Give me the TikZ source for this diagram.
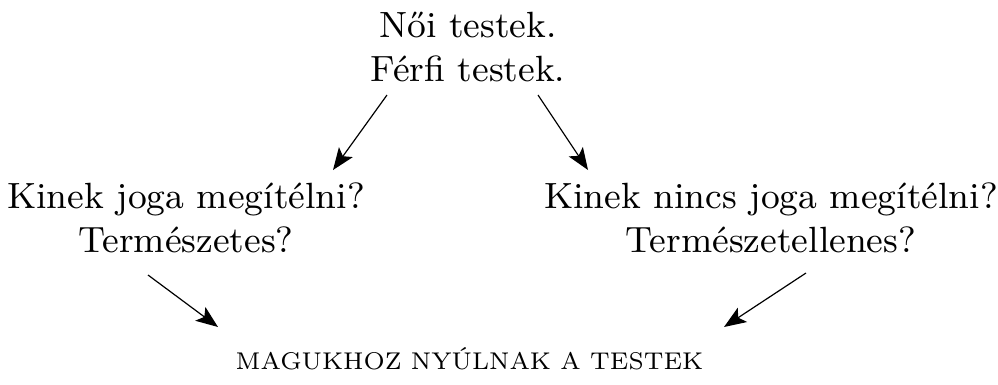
\documentclass[tikz,border=0pt]{standalone}
\usepackage{fontspec}
\setmainfont{lmroman9-regular.otf}
\newfontfamily\capsfont{lmroman7-regular.otf}
\usetikzlibrary{arrows.meta}
\tikzset{
  big/.style={font=\fontsize{36.5}{44}\selectfont, inner sep=0pt, anchor=base},
  small/.style={font=\capsfont\fontsize{24.2}{29}\selectfont, inner sep=0pt, anchor=base},
  arr/.style={-{Stealth[length=22pt,width=17pt,inset=5pt]}, line width=1.2pt}
}
\begin{document}
\begin{tikzpicture}[x=1pt,y=-1pt]
  \useasboundingbox (0,0) rectangle (998,384);
  % top pair of lines
  \node[big] (t1) at (468,37) {Női testek.};
  \node[big] (t2) at (468,81) {Férfi testek.};
  % left question
  \node[big] (l1) at (186,208) {Kinek joga megítélni?};
  \node[big] (l2) at (186,252) {Természetes?};
  % right question
  \node[big] (r1) at (771,208) {Kinek nincs joga megítélni?};
  \node[big] (r2) at (771,252) {Természetellenes?};
  % conclusion
  \node[small] (b) at (469.5,369) {MAGUKHOZ NYÚLNAK A TESTEK};
  % arrow end points
  \coordinate (a1s) at (387,95);  \coordinate (a1e) at (333,170);
  \coordinate (a2s) at (538,95);  \coordinate (a2e) at (588,170);
  \coordinate (a3s) at (148,275); \coordinate (a3e) at (218,327);
  \coordinate (a4s) at (806,273); \coordinate (a4e) at (724,327);
  \draw[arr] (a1s) -- (a1e);
  \draw[arr] (a2s) -- (a2e);
  \draw[arr] (a3s) -- (a3e);
  \draw[arr] (a4s) -- (a4e);
\end{tikzpicture}
\end{document}
